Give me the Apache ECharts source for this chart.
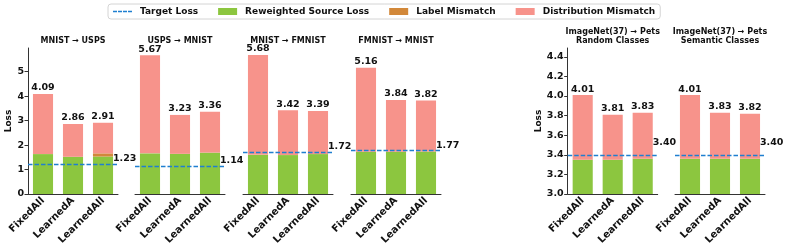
<!DOCTYPE html>
<html>
<head>
<meta charset="utf-8">
<script src="https://cdn.jsdelivr.net/npm/echarts@6/dist/echarts.min.js"></script>
<style>html,body{margin:0;padding:0;background:#fff}#c{width:789px;height:250px}</style>
</head>
<body>
<div id="c"></div>
<script>
const categories = ['FixedAll', 'LearnedA', 'LearnedAll'];
const panelTitles = ['MNIST → USPS', 'USPS → MNIST', 'MNIST → FMNIST', 'FMNIST → MNIST',
  'ImageNet(37) → Pets\nRandom Classes', 'ImageNet(37) → Pets\nSemantic Classes'];
const totalLoss = [[4.09, 2.86, 2.91], [5.67, 3.23, 3.36], [5.68, 3.42, 3.39], [5.16, 3.84, 3.82], [4.01, 3.81, 3.83], [4.01, 3.83, 3.82]];
const sourceLoss = [[1.63, 1.52, 1.53], [1.66, 1.64, 1.69], [1.60, 1.59, 1.63], [1.73, 1.73, 1.74], [3.35, 3.35, 3.36], [3.36, 3.36, 3.36]];
const labelMismatch = [[0, 0, 0.13], [0, 0, 0], [0, 0, 0], [0, 0, 0], [0, 0, 0], [0, 0, 0]];
const targetLoss = [1.23, 1.14, 1.72, 1.77, 3.40, 3.40];
const yTicksLeft = [0, 1, 2, 3, 4, 5];
const yTicksRight = [3.0, 3.2, 3.4, 3.6, 3.8, 4.0, 4.2, 4.4];

const C_SRC = '#8cc63f', C_LM = '#d2883a', C_DM = '#f7938b', C_T = '#1f7fd0';
const gridLefts = [28, 135, 243, 351, 567.7, 675];
const GW = 90, GT = 48, GH = 146;
const font = 'DejaVu Sans';

const chart = echarts.init(document.getElementById('c'), null, {renderer: 'canvas'});
const grids = [], xAxes = [], yAxes = [], series = [], titles = [];
for (let p = 0; p < 6; p++) {
  const right = p >= 4;
  const firstOfGroup = p === 0 || p === 4;
  grids.push({left: gridLefts[p], top: GT, width: GW, height: GH, containLabel: false});
  xAxes.push({
    type: 'category', gridIndex: p, data: categories,
    axisLine: {lineStyle: {color: '#333', width: 1}},
    axisTick: {alignWithLabel: true, length: 3.5, lineStyle: {color: '#333'}},
    axisLabel: {rotate: 45, fontFamily: font, fontWeight: 'bold', fontSize: 10, color: '#111', margin: 5, interval: 0}
  });
  yAxes.push({
    type: 'value', gridIndex: p,
    min: right ? 3.0 : 0, max: right ? 4.49 : 5.964,
    interval: right ? 0.2 : 1,
    splitLine: {show: false},
    axisLine: {show: firstOfGroup, lineStyle: {color: '#333', width: 1}},
    axisTick: {show: firstOfGroup, length: 3.5, lineStyle: {color: '#333'}, customValues: right ? yTicksRight : yTicksLeft},
    axisLabel: {show: firstOfGroup, fontFamily: font, fontWeight: 'bold', fontSize: 9.5, color: '#111', margin: 4,
      customValues: right ? yTicksRight : yTicksLeft,
      formatter: v => right ? v.toFixed(1) : String(v)},
    name: firstOfGroup ? 'Loss' : '', nameLocation: 'middle', nameGap: right ? 23 : 14,
    nameTextStyle: {fontFamily: font, fontWeight: 'bold', fontSize: 9, color: '#111'}
  });
  const twoLine = panelTitles[p].indexOf('\n') >= 0;
  titles.push({
    text: panelTitles[p], left: gridLefts[p] + GW / 2, top: twoLine ? 27 : 36, textAlign: 'center', padding: 0,
    textStyle: {fontFamily: font, fontWeight: 'bold', fontSize: 8, color: '#111', lineHeight: 9.5}
  });
  const dm = totalLoss[p].map((t, i) => +(t - sourceLoss[p][i] - labelMismatch[p][i]).toFixed(3));
  const stack = 'st' + p;
  const common = {type: 'bar', xAxisIndex: p, yAxisIndex: p, stack: stack, barWidth: '67%', animation: false};
  series.push(Object.assign({}, common, {name: 'Reweighted Source Loss', data: sourceLoss[p], itemStyle: {color: C_SRC}}));
  series.push(Object.assign({}, common, {name: 'Label Mismatch', data: labelMismatch[p], itemStyle: {color: C_LM}}));
  series.push(Object.assign({}, common, {name: 'Distribution Mismatch', data: dm, itemStyle: {color: C_DM},
    label: {show: true, position: 'top', distance: 1, fontFamily: font, fontWeight: 'bold', fontSize: 9.5, color: '#111',
      formatter: prm => totalLoss[p][prm.dataIndex].toFixed(2)}}));
  series.push({
    type: 'line', name: 'Target Loss', xAxisIndex: p, yAxisIndex: p, data: [], symbol: 'none', animation: false,
    itemStyle: {color: C_T}, lineStyle: {color: C_T, type: 'dashed', width: 1.3},
    markLine: {
      silent: true, symbol: ['none', 'none'], animation: false,
      lineStyle: {color: C_T, type: [4.5, 2], width: 1.3},
      label: {show: true, position: 'end', distance: [-5, 0], lineHeight: right ? 12 : 11,
        fontFamily: font, fontWeight: 'bold', fontSize: 9.5, color: '#111',
        formatter: () => targetLoss[p].toFixed(2) + (right ? '\n\n' : '\n')},
      data: [{yAxis: targetLoss[p]}]
    }
  });
}

const dashIcon = 'path://M0,0h4v1.6h-4z M5,0h4v1.6h-4z M10,0h4v1.6h-4z M15,0h4v1.6h-4z';
chart.setOption({
  animation: false,
  title: titles,
  legend: {
    left: 108, top: 4, padding: [3, 5], itemWidth: 19, itemHeight: 7, itemGap: 20,
    borderColor: '#d4d4d4', borderWidth: 1, borderRadius: 3,
    textStyle: {fontFamily: font, fontWeight: 'bold', fontSize: 9, color: '#111', padding: [0, 0, 0, 3]},
    data: [
      {name: 'Target Loss', icon: dashIcon, itemStyle: {color: C_T}},
      {name: 'Reweighted Source Loss', icon: 'rect'},
      {name: 'Label Mismatch', icon: 'rect'},
      {name: 'Distribution Mismatch', icon: 'rect'}
    ]
  },
  grid: grids, xAxis: xAxes, yAxis: yAxes, series: series
});
</script>
</body>
</html>
